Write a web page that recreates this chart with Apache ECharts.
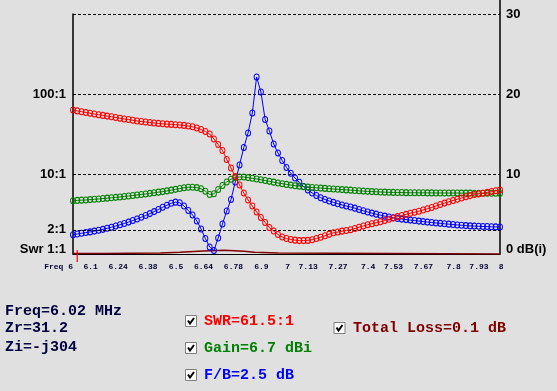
<!DOCTYPE html>
<html><head><meta charset="utf-8">
<script src="https://cdn.jsdelivr.net/npm/echarts@6/dist/echarts.min.js"></script>
<style>html,body{margin:0;padding:0;background:#e0e0e0;}#c{width:557px;height:391px;}</style>
</head><body><div id="c"></div>
<script>
// ---- data ----
const FREQ_START = 6.0;   // MHz, first sample
const FREQ_STEP = 0.02;   // MHz between samples
const SWR = [
  63.1, 61.5, 60.1, 58.7, 57.4, 56.2, 55.1, 54.0, 52.9, 51.9,
  50.8, 49.8, 48.8, 47.9, 46.9, 46.0, 45.3, 44.7, 44.0, 43.4,
  42.9, 42.4, 42.0, 41.7, 41.3, 41.0, 40.5, 39.8, 38.9, 37.6,
  36.0, 34.0, 31.6, 27.4, 23.4, 19.7, 15.2, 11.9, 9.30, 7.29,
  5.79, 4.73, 3.98, 3.35, 2.86, 2.48, 2.14, 1.94, 1.75, 1.63,
  1.56, 1.52, 1.49, 1.47, 1.47, 1.48, 1.51, 1.56, 1.62, 1.69,
  1.77, 1.84, 1.88, 1.93, 1.97, 2.01, 2.08, 2.16, 2.24, 2.32,
  2.39, 2.46, 2.53, 2.62, 2.72, 2.82, 2.93, 3.03, 3.13, 3.23,
  3.32, 3.43, 3.55, 3.68, 3.82, 3.98, 4.15, 4.33, 4.49, 4.66,
  4.84, 5.01, 5.19, 5.37, 5.53, 5.64, 5.75, 5.89, 6.03, 6.17,
  6.31
];
const GAIN = [
  6.66, 6.70, 6.73, 6.75, 6.80, 6.84, 6.88, 6.93, 6.98, 7.03,
  7.08, 7.13, 7.19, 7.25, 7.31, 7.38, 7.44, 7.50, 7.58, 7.65,
  7.73, 7.80, 7.89, 7.98, 8.08, 8.18, 8.28, 8.34, 8.35, 8.30,
  8.15, 7.85, 7.44, 7.53, 8.06, 8.56, 9.00, 9.35, 9.55, 9.63,
  9.63, 9.55, 9.46, 9.38, 9.28, 9.18, 9.08, 8.98, 8.88, 8.79,
  8.70, 8.61, 8.54, 8.48, 8.41, 8.36, 8.31, 8.28, 8.24, 8.20,
  8.16, 8.13, 8.09, 8.05, 8.01, 7.98, 7.94, 7.90, 7.86, 7.83,
  7.80, 7.78, 7.75, 7.73, 7.71, 7.70, 7.69, 7.68, 7.67, 7.66,
  7.66, 7.65, 7.65, 7.64, 7.64, 7.63, 7.63, 7.63, 7.62, 7.62,
  7.62, 7.61, 7.61, 7.61, 7.60, 7.60, 7.60, 7.59, 7.59, 7.59,
  7.58
];
const FB = [
  2.40, 2.50, 2.59, 2.68, 2.76, 2.86, 2.96, 3.08, 3.21, 3.35,
  3.50, 3.65, 3.81, 3.99, 4.18, 4.38, 4.59, 4.81, 5.05, 5.30,
  5.56, 5.84, 6.10, 6.34, 6.48, 6.40, 6.00, 5.44, 4.88, 4.13,
  3.13, 1.94, 0.88, 0.44, 2.00, 3.75, 5.38, 6.81, 9.00, 11.13,
  13.31, 15.13, 17.63, 22.13, 20.25, 16.81, 15.38, 13.75, 12.63, 11.69,
  10.81, 10.10, 9.50, 8.96, 8.43, 8.00, 7.63, 7.31, 7.04, 6.81,
  6.63, 6.45, 6.29, 6.13, 6.00, 5.88, 5.73, 5.56, 5.40, 5.25,
  5.11, 4.98, 4.85, 4.73, 4.63, 4.53, 4.44, 4.36, 4.30, 4.24,
  4.18, 4.11, 4.05, 3.99, 3.93, 3.88, 3.83, 3.78, 3.73, 3.68,
  3.63, 3.59, 3.55, 3.51, 3.49, 3.46, 3.44, 3.43, 3.40, 3.39,
  3.38
];
const LOSS_FREQ = [6.00, 6.14, 6.41, 6.50, 6.61, 6.71, 6.80, 6.85, 6.96, 8.00];
const LOSS_DB   = [0.05, 0.12, 0.22, 0.37, 0.46, 0.34, 0.21, 0.12, 0.0, 0.0];
const FREQ_TICKS = [6, 6.1, 6.24, 6.38, 6.5, 6.64, 6.78, 6.9, 7, 7.13, 7.27, 7.4, 7.53, 7.67, 7.8, 7.93, 8];
const SWR_TICKS = [1, 10, 100];
const SWR_TICK_TEXT = ['Swr 1:1', '10:1', '100:1'];
const SWR_REF = 2;
const DB_MIN = 0, DB_MAX = 30, DB_STEP = 10;
const CURSOR_FREQ = 6.02;
const READ_FREQ = '6.02', READ_ZR = '31.2', READ_ZI = '-j304';
const READ_SWR = '61.5', READ_GAIN = '6.7', READ_FB = '2.5', READ_LOSS = '0.1';

// ---- chart ----
const freqs = SWR.map((_, i) => +(FREQ_START + i * FREQ_STEP).toFixed(2));
const pair = arr => arr.map((v, i) => [freqs[i], v]);

const axisFont = {fontSize: 13, fontWeight: 'bold', fontFamily: 'Liberation Sans, Arial, sans-serif', color: '#000'};
const monoFont = '"Liberation Mono", "Courier New", monospace';

function curve(name, data, color, yIdx, z) {
  return {
    type: 'line', name, data, yAxisIndex: yIdx, z,
    symbol: 'circle', symbolSize: [5, 6], showSymbol: true, showAllSymbol: true,
    itemStyle: {color: 'rgba(0,0,0,0)', borderColor: color, borderWidth: 1},
    lineStyle: {color, width: 1},
    emphasis: {disabled: true}, silent: true
  };
}

const swrSeries = curve('SWR', pair(SWR), '#ff0000', 0, 5);
swrSeries.markLine = {
  silent: true, symbol: 'none', animation: false,
  data: [{yAxis: SWR_REF}],
  lineStyle: {color: '#000', type: [3, 2], width: 1},
  label: Object.assign({position: 'start', distance: 7, formatter: SWR_REF + ':1', padding: [5, 0, 0, 0]}, axisFont)
};

function box(x, y) {
  return [
    {type: 'rect', shape: {x, y, width: 11, height: 11}, style: {fill: '#fff', stroke: '#808080', lineWidth: 1}, silent: true},
    {type: 'polyline', shape: {points: [[x + 2.5, y + 5], [x + 4.5, y + 8], [x + 8.5, y + 2.5]]}, style: {stroke: '#000', lineWidth: 2, fill: null}, silent: true}
  ];
}
function txt(t, x, y, color) {
  return {type: 'text', silent: true, style: {text: t, x, y, fill: color, font: 'bold 15px ' + monoFont, verticalAlign: 'middle'}};
}

const chart = echarts.init(document.getElementById('c'), null, {renderer: 'canvas'});
chart.setOption({
  backgroundColor: '#e0e0e0',
  animation: false,
  grid: {left: 73, right: 57, top: 14, bottom: 137, containLabel: false},
  xAxis: {
    type: 'value', min: 6, max: 8, offset: 1,
    axisLine: {show: true, lineStyle: {color: '#000', width: 1}},
    axisTick: {show: false}, splitLine: {show: false},
    axisLabel: {
      customValues: FREQ_TICKS, showMinLabel: true, showMaxLabel: true, hideOverlap: false,
      formatter: v => v === FREQ_TICKS[0] ? '{f|Freq ' + v + '}' : String(v),
      align: 'right', padding: [0, -3.5, 0, 0], margin: 8,
      fontSize: 8, fontWeight: 'bold', fontFamily: monoFont, color: '#000033',
      rich: {f: {fontSize: 8, fontWeight: 'bold', fontFamily: monoFont, color: '#000033', padding: [0, 3.5, 0, 0]}}
    }
  },
  yAxis: [
    {
      type: 'log', logBase: 10, min: 1, max: 1000, position: 'left',
      axisLine: {show: true, lineStyle: {color: '#000', width: 1.5}},
      axisTick: {show: false}, splitLine: {show: false},
      axisLabel: Object.assign({
        margin: 7,
        formatter: v => {
          const i = SWR_TICKS.indexOf(Math.round(v));
          if (i < 0) return '';
          return i === 0 ? '{b|' + SWR_TICK_TEXT[i] + '}' : SWR_TICK_TEXT[i];
        },
        rich: {b: Object.assign({padding: [0, 0, 10, 0]}, axisFont)}
      }, axisFont)
    },
    {
      type: 'value', min: DB_MIN, max: DB_MAX, interval: DB_STEP, position: 'right',
      axisLine: {show: true, lineStyle: {color: '#000', width: 1.5}},
      axisTick: {show: false},
      splitLine: {show: true, lineStyle: {color: '#000', type: [3, 2], width: 1}},
      axisLabel: Object.assign({
        margin: 6,
        formatter: v => v === DB_MIN ? '{z|' + v + ' dB(i)}' : String(v),
        rich: {z: Object.assign({padding: [0, 0, 10, 0]}, axisFont)}
      }, axisFont)
    }
  ],
  series: [
    {
      type: 'line', name: 'Total Loss', yAxisIndex: 1, z: 2, step: 'end',
      data: LOSS_FREQ.map((f, i) => [f, LOSS_DB[i]]),
      showSymbol: false, lineStyle: {color: '#800000', width: 1.5}, silent: true
    },
    curve('F/B', pair(FB), '#0000ff', 1, 3),
    curve('Gain', pair(GAIN), '#008000', 1, 4),
    swrSeries,
    {
      type: 'scatter', yAxisIndex: 1, z: 10, silent: true,
      data: [[CURSOR_FREQ, 0]], symbol: 'rect', symbolSize: [1.5, 12], symbolOffset: [0, 2],
      itemStyle: {color: '#ff0000'}
    }
  ],
  graphic: [
    {type: 'line', silent: true, shape: {x1: 500, y1: 0, x2: 500, y2: 14}, style: {stroke: '#000', lineWidth: 1.5}},
    txt('Freq=' + READ_FREQ + ' MHz', 5, 311, '#000040'),
    txt('Zr=' + READ_ZR, 5, 328, '#000040'),
    txt('Zi=' + READ_ZI, 5, 347, '#000040'),
    ...box(185.5, 315.5), txt('SWR=' + READ_SWR + ':1', 204, 321, '#ff0000'),
    ...box(185.5, 342.5), txt('Gain=' + READ_GAIN + ' dBi', 204, 348, '#008000'),
    ...box(185.5, 369.5), txt('F/B=' + READ_FB + ' dB', 204, 375, '#0000ff'),
    ...box(334, 322.5), txt('Total Loss=' + READ_LOSS + ' dB', 353, 328, '#800000')
  ]
});
</script>
</body></html>
